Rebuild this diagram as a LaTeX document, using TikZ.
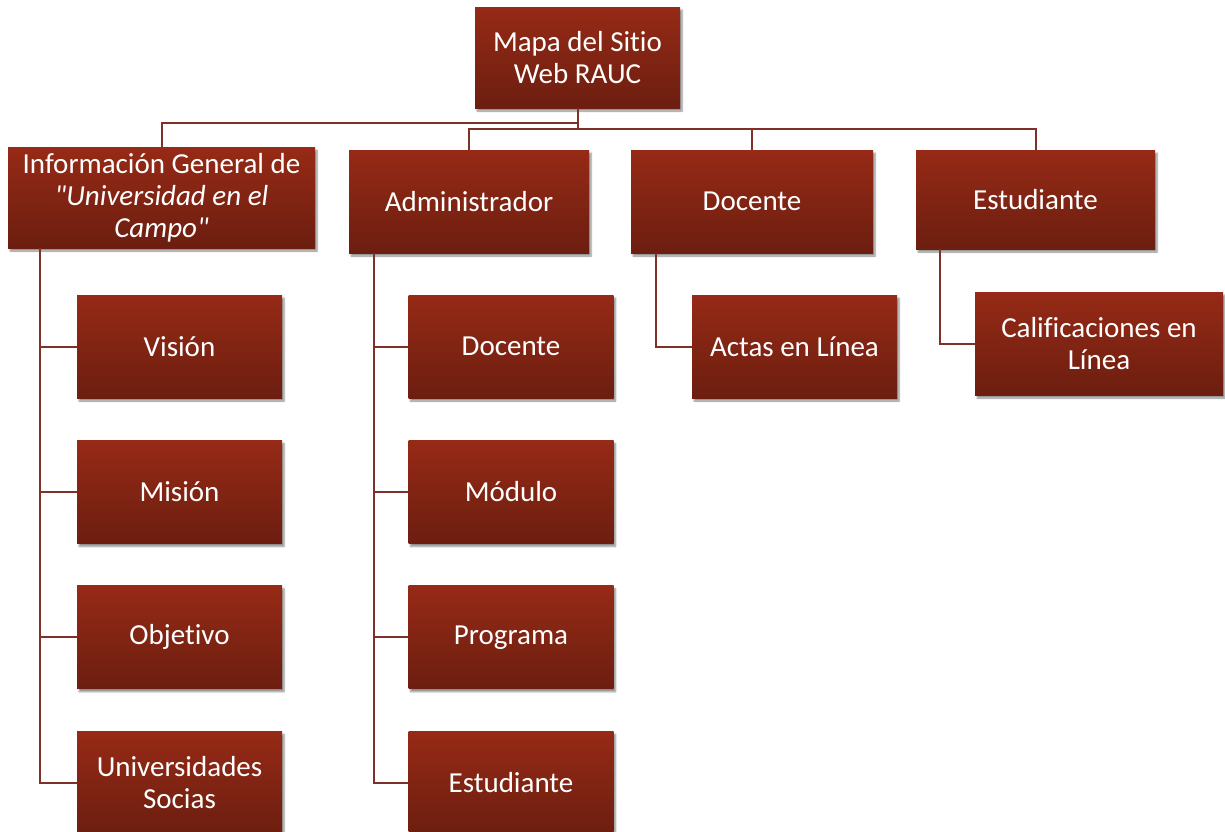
\documentclass[tikz,border=0pt]{standalone}
\usepackage{fontspec}
\newfontfamily\calibri{Carlito}[Ligatures=NoCommon]
\usetikzlibrary{positioning, shadows.blur}
\definecolor{boxtop}{RGB}{150,42,22}
\definecolor{boxbottom}{RGB}{108,30,16}
\definecolor{linkred}{RGB}{128,48,38}
\tikzset{
    box/.style={rectangle, top color=boxtop, bottom color=boxbottom, text=white,
        align=center, inner sep=2pt, font=\calibri\fontsize{29}{32}\selectfont,
        blur shadow={shadow xshift=2pt, shadow yshift=-3pt, shadow blur steps=6, shadow opacity=45}}, % the red boxes
    leaf/.style={box, minimum width=205pt, minimum height=103pt}, % boxes of the lower levels
    head/.style={box, minimum width=240pt, minimum height=103pt}, % boxes of the second level
    link/.style={draw=linkred, line width=2pt}, % elbow connectors
    node distance=42pt,
}

\begin{document}
\begin{tikzpicture}[x=1pt, y=-1pt]
    \useasboundingbox (0,0) rectangle (1225,831);

    \node[box, minimum width=205pt, minimum height=101pt] (root) at (577.5,57.5) {Mapa del Sitio\\Web RAUC};

    \node[box, minimum width=307pt, minimum height=101pt] (info) at (161.5,197.5)
        {Información General de\\\textit{"Universidad en el}\\\textit{Campo"}};
    \node[head] (admin) at (469,201.5) {Administrador};
    \node[head, minimum width=242pt] (doc) at (752,201.5) {Docente};
    \node[head, minimum width=239pt, minimum height=99pt] (est) at (1035.5,199.5) {Estudiante};

    \node[leaf] (vision) at (179.5,346.5) {Visión};
    \node[leaf, below=of vision] (mision) {Misión};
    \node[leaf, below=of mision] (objetivo) {Objetivo};
    \node[leaf, below=of objetivo] (socias) {Universidades\\Socias};

    \node[leaf] (adocente) at (511,346.5) {Docente};
    \node[leaf, below=of adocente] (modulo) {Módulo};
    \node[leaf, below=of modulo] (programa) {Programa};
    \node[leaf, below=of programa] (aestudiante) {Estudiante};

    \node[leaf] (actas) at (794.5,346.5) {Actas en Línea};
    \node[leaf, minimum width=248pt] (calif) at (1099,343.5) {Calificaciones en\\Línea};

    \draw[link] (root) -- (root |- 0,123) -| (info);
    \foreach \h in {admin, doc, est}
        \draw[link] (root) -- (root |- 0,129) -| (\h);

    \foreach \c in {vision, mision, objetivo, socias}
        \draw[link] (info.south -| 40,0) |- (\c);
    \foreach \c in {adocente, modulo, programa, aestudiante}
        \draw[link] (admin.south -| 374,0) |- (\c);
    \draw[link] (doc.south -| 656,0) |- (actas);
    \draw[link] (est.south -| 940,0) |- (calif);
\end{tikzpicture}
\end{document}
